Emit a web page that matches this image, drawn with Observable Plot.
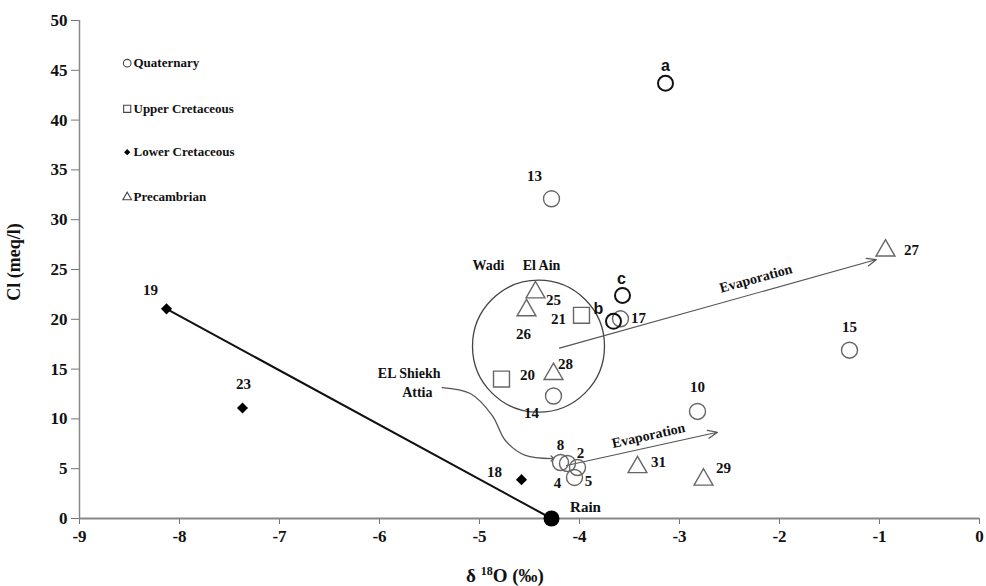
<!DOCTYPE html>
<html><head><meta charset="utf-8">
<script src="https://cdn.jsdelivr.net/npm/d3@7"></script>
<script src="https://cdn.jsdelivr.net/npm/@observablehq/plot@0.6"></script>
<style>body{margin:0;background:#fff} svg{display:block} #chart svg text{font-weight:bold}</style>
</head><body><div id="chart"></div>
<script>
// ---- data ----
const xTicks = [-9, -8, -7, -6, -5, -4, -3, -2, -1, 0];
const yTicks = [0, 5, 10, 15, 20, 25, 30, 35, 40, 45, 50];
const groups = ["Quaternary", "Upper Cretaceous", "Lower Cretaceous", "Precambrian"];

const quatIds  = ["a", "13", "c", "b", "17", "15", "14", "10", "8", "4", "2", "5"];
const quatD18O = [-3.14, -4.28, -3.57, -3.66, -3.59, -1.30, -4.26, -2.82, -4.19, -4.12, -4.02, -4.05];
const quatCl   = [43.7, 32.1, 22.4, 19.8, 20.05, 16.9, 12.3, 10.75, 5.62, 5.52, 5.12, 4.12];
const quatDark = ["a", "b", "c"];

const ucIds  = ["21", "20"];
const ucD18O = [-3.98, -4.78];
const ucCl   = [20.4, 14.0];

const lcIds  = ["19", "23", "18"];
const lcD18O = [-8.13, -7.37, -4.58];
const lcCl   = [21.05, 11.1, 3.9];

const pcIds  = ["25", "26", "28", "27", "31", "29"];
const pcD18O = [-4.44, -4.53, -4.26, -0.94, -3.42, -2.76];
const pcCl   = [22.7, 20.9, 14.5, 26.9, 5.15, 3.9];

const rainD18O = [-4.28];
const rainCl   = [0];

// annotations (data units)
const wadiCircleX = [-4.41], wadiCircleY = [17.3];
const evapX1 = [-4.2, -4.13], evapY1 = [17.1, 5.32];
const evapX2 = [-1.03, -2.62], evapY2 = [26.0, 8.66];
const evapTextX = [-2.236, -3.31], evapTextY = [24.1, 8.33], evapAngle = [-15.5, -12.6];
const attiaPathX = [-5.373, -5.092, -4.872, -4.741, -4.541, -4.271];
const attiaPathY = [13.15, 12.55, 10.34, 7.83, 6.33, 6.02];
const noteTexts = ["Wadi", "El Ain", "EL Shiekh", "Attia"];
const noteX = [-4.91, -4.38, -5.39, -5.47];
const noteY = [25.4, 25.4, 14.56, 12.65];

// ---- build tables ----
const mk = (ids, xs, ys, group) => ids.map((id, i) => ({id, x: xs[i], y: ys[i], group}));
const quat = mk(quatIds, quatD18O, quatCl, groups[0]);
const uc = mk(ucIds, ucD18O, ucCl, groups[1]);
const lc = mk(lcIds, lcD18O, lcCl, groups[2]);
const pc = mk(pcIds, pcD18O, pcCl, groups[3]);
const rain = mk(["Rain"], rainD18O, rainCl, "Rain");
const all = [...quat, ...uc, ...lc, ...pc, ...rain];

// label offsets (px, style)
const labelOffset = {
  "a": [0, -17], "b": [-15, -12], "c": [-1, -17], "13": [-17, -23], "17": [18, -1],
  "15": [0, -23], "14": [-22, 17], "10": [0, -24], "8": [0, -17], "4": [-10, 20],
  "2": [3, -14], "5": [14, 4], "21": [-23, 4], "20": [26, -4], "19": [-16, -19],
  "23": [1, -24], "18": [-27, -7], "25": [18, 8], "26": [-3, 24], "28": [12, -10],
  "27": [26, 0], "31": [21, -5], "29": [20, -11], "Rain": [34, -11]
};
const sansLabels = ["a", "b", "c"];

const serif = "'Liberation Serif', 'Times New Roman', serif";
const sans = "'Liberation Sans', Arial, sans-serif";
const gray = "#666";

const labelMarks = all.filter(d => labelOffset[d.id]).map(d => Plot.text([d], {
  x: "x", y: "y", text: "id",
  dx: labelOffset[d.id][0], dy: labelOffset[d.id][1],
  fontSize: sansLabels.includes(d.id) ? 16 : 15,
  fontFamily: sansLabels.includes(d.id) ? sans : serif,
  fontWeight: "bold", fill: "#111"
}));

// legend (positioned relative to frame)
const legendSymbols = ["circle", "square", "diamond2", "triangle"];
const legendDy = [42.7, 88.3, 131.7, 176.7];
const legendR = [3.8, 4, 2.8, 3.2];
const legendMarks = groups.flatMap((g, i) => [
  Plot.dot([g], {frameAnchor: "top-left", dx: 47.7, dy: legendDy[i], symbol: legendSymbols[i], r: legendR[i],
    fill: i === 2 ? "#000" : "none", stroke: i === 2 ? "none" : "#444", strokeWidth: 1.1}),
  Plot.text([g], {frameAnchor: "top-left", lineAnchor: "middle", dx: 54, dy: legendDy[i], text: d => d, textAnchor: "start",
    fontSize: 13, fontWeight: "bold", fontFamily: serif, fill: "#111"})
]);

const evap = evapX1.map((x1, i) => ({x1, y1: evapY1[i], x2: evapX2[i], y2: evapY2[i]}));
const attiaPath = attiaPathX.map((x, i) => ({x, y: attiaPathY[i]}));
const notes = noteTexts.map((t, i) => ({t, x: noteX[i], y: noteY[i]}));

const svg = Plot.plot({
  width: 986, height: 586,
  marginLeft: 79, marginRight: 7, marginTop: 20, marginBottom: 68,
  style: {fontFamily: serif, fontWeight: "bold", background: "#fff", overflow: "visible"},
  x: {domain: [-9, 0]},
  y: {domain: [0, 50]},
  marks: [
    Plot.axisX(xTicks, {tickSize: 6, tickPadding: 5, fontSize: 17, fontWeight: "bold", tickFormat: d => String(d), stroke: "#777", fill: "#111", label: null}),
    Plot.axisY(yTicks, {tickSize: 8, tickPadding: 4, fontSize: 17, fontWeight: "bold", stroke: "#777", fill: "#111", label: null}),
    Plot.ruleY([0], {stroke: "#888", strokeWidth: 2}),
    Plot.ruleX([-9], {y1: 0, y2: 50, stroke: "#888", strokeWidth: 1.5}),
    // Wadi El Ain circle
    Plot.dot(wadiCircleX.map((x, i) => ({x, y: wadiCircleY[i]})), {x: "x", y: "y", r: 66, stroke: "#444", strokeWidth: 1.3, fill: "none"}),
    // mixing line 19 -> Rain
    Plot.line([lc[0], rain[0]], {x: "x", y: "y", stroke: "#111", strokeWidth: 2}),
    // evaporation arrows
    Plot.arrow(evap, {x1: "x1", y1: "y1", x2: "x2", y2: "y2", stroke: "#555", strokeWidth: 1.2, headLength: 13, headAngle: 45}),
    Plot.line(attiaPath, {x: "x", y: "y", curve: "catmull-rom", stroke: "#555", strokeWidth: 1.3, markerEnd: "arrow"}),
    // points
    Plot.dot(quat.filter(d => !quatDark.includes(d.id)), {x: "x", y: "y", r: 8, stroke: gray, strokeWidth: 1.4, fill: "none"}),
    Plot.dot(quat.filter(d => quatDark.includes(d.id)), {x: "x", y: "y", r: 7.5, stroke: "#111", strokeWidth: 2, fill: "none"}),
    Plot.dot(uc, {x: "x", y: "y", symbol: "square", r: 9, stroke: gray, strokeWidth: 1.4, fill: "none"}),
    Plot.dot(lc, {x: "x", y: "y", symbol: "diamond2", r: 5, fill: "#000"}),
    Plot.dot(pc, {x: "x", y: "y", symbol: "triangle", r: 7, stroke: gray, strokeWidth: 1.4, fill: "none"}),
    Plot.dot(rain, {x: "x", y: "y", r: 8, fill: "#000"}),
    // texts
    ...labelMarks,
    Plot.text(evap.map((d, i) => ({x: evapTextX[i], y: evapTextY[i], a: evapAngle[i]})), {x: "x", y: "y", text: () => "Evaporation", rotate: "a", fontSize: 14, fontWeight: "bold", fill: "#111"}),
    Plot.text(notes.slice(0, 2), {x: "x", y: "y", text: "t", fontSize: 14, fontWeight: "bold", fill: "#111"}),
    Plot.text(notes.slice(2), {x: "x", y: "y", text: "t", textAnchor: "end", fontSize: 14, fontWeight: "bold", fill: "#111"}),
    ...legendMarks
  ]
});

const s = d3.select(svg);
const xt = s.append("text").attr("x", 505).attr("y", 582).attr("text-anchor", "middle")
  .attr("font-size", 19).attr("font-weight", "bold").attr("font-family", serif).attr("fill", "#111");
xt.append("tspan").text("δ ");
xt.append("tspan").attr("font-size", 12).attr("dy", -7).text("18");
xt.append("tspan").attr("dy", 7).text("O (‰)");
s.append("text").attr("transform", "translate(20,262) rotate(-90)").attr("text-anchor", "middle")
  .attr("font-size", 18).attr("font-weight", "bold").attr("font-family", serif).attr("fill", "#111")
  .text("Cl (meq/l)");

document.getElementById("chart").appendChild(svg);
</script>
</body></html>
